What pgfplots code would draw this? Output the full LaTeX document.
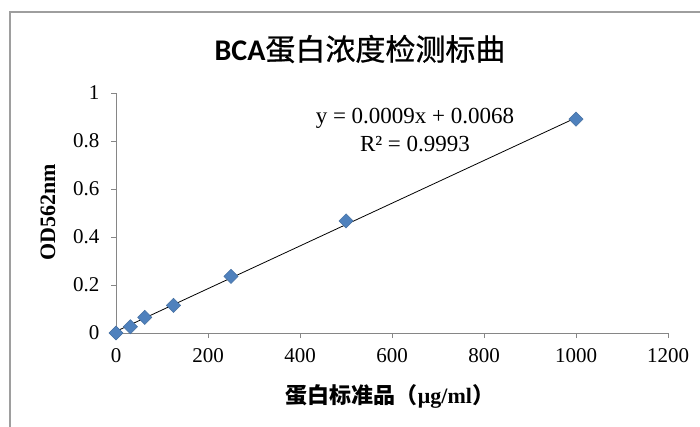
\documentclass[border=0pt]{standalone}
\usepackage{pgfplots}
\pgfplotsset{compat=1.18}
\usepackage{fontspec}
\setmainfont{Liberation Serif}
\newfontfamily\cjk{Noto Sans CJK SC}
\newfontfamily\cjkt[FakeBold=0.8]{Noto Sans CJK SC}
\newfontfamily\calibri{Carlito}
\definecolor{axgray}{RGB}{134,134,134}
\definecolor{markblue}{RGB}{79,129,189}
\begin{document}
\begin{tikzpicture}
\useasboundingbox (-116pt,-93pt) rectangle (584pt,333pt);
\draw[color=axgray!80, line width=1.3pt] (-106pt,-100pt) -- (-106pt,321pt) -- (600pt,321pt);
\begin{axis}[
  at={(0pt,0pt)}, anchor=south west,
  scale only axis, width=552pt, height=240pt,
  xmin=0, xmax=1200, ymin=0, ymax=1,
  axis lines*=left,
  axis line style={color=axgray, line width=0.9pt},
  xtick={0,200,...,1200},
  ytick={0,0.2,0.4,0.6,0.8,1},
  tick align=outside, major tick length=5pt,
  tick style={color=axgray, line width=0.9pt},
  /pgf/number format/assume math mode=true,
  /pgf/number format/1000 sep={},
  ticklabel style={font=\fontsize{21}{25}\selectfont},
  xticklabel style={yshift=-7pt},
  yticklabel style={xshift=-8pt},
  clip=false,
]
\addplot[only marks, mark=square*, mark size=5pt,
  mark options={rotate=45, fill=markblue, draw=markblue!85!black, line width=0.5pt}]
  coordinates {(0,0) (31.25,0.026) (62.5,0.065) (125,0.115) (250,0.236) (500,0.467) (1000,0.891)};
\addplot[black, line width=0.8pt] coordinates {(0,0.0068) (1000,0.8968)};
\end{axis}
\node[font=\fontsize{30}{36}\selectfont] at (244pt,284pt) {{\calibri\bfseries BCA}\cjkt 蛋白浓度检测标曲};
\node[font=\fontsize{23}{27}\selectfont] at (299pt,215pt) {y = 0.0009x + 0.0068};
\node[font=\fontsize{23}{27}\selectfont] at (299pt,189pt) {R² = 0.9993};
\node[font=\fontsize{22}{26}\selectfont\bfseries] at (274pt,-63pt) {\cjk 蛋白标准品（\normalfont\bfseries μg/ml\cjk ）};
\node[font=\fontsize{22}{26}\selectfont\bfseries, rotate=90] at (-68pt,121pt) {OD562nm};
\end{tikzpicture}
\end{document}
